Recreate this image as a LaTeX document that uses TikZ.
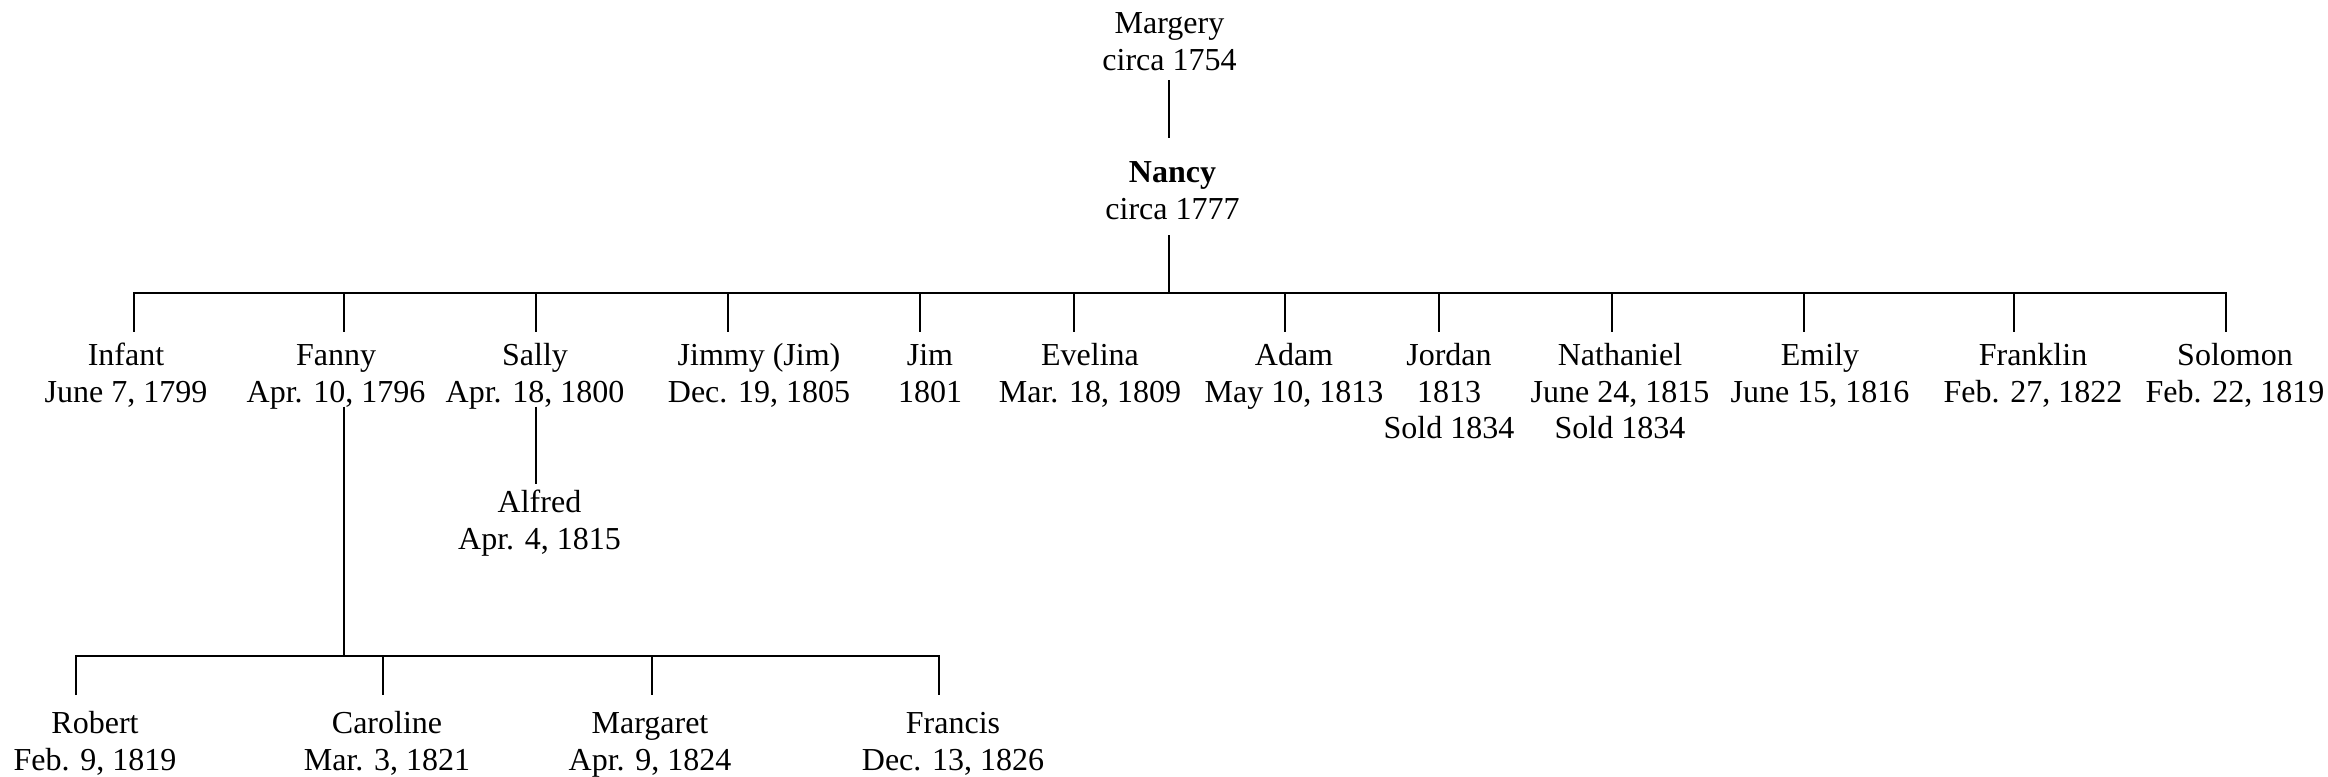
\documentclass[tikz,border=0pt]{standalone}
\usepackage{fontspec}
\setmainfont{Liberation Serif}
\newcommand\treefont{\fontsize{16}{18.35}\selectfont}
\begin{document}
\begin{tikzpicture}[x=0.5pt,y=-0.5pt,
  person/.style={align=center,inner sep=0pt,anchor=north,font=\treefont},
  link/.style={line width=1pt}]
\useasboundingbox (0,0) rectangle (2328,776);
% generation 1 and 2
\node[person] (margery) at (1169.5,7.3) {\strut Margery\\circa 1754};
\node[person] (nancy) at (1172.5,156.3) {\strut\textbf{Nancy}\\circa 1777};
% children of Nancy
\node[person] (infant)    at (126,339.3)  {\strut Infant\\June 7, 1799};
\node[person] (fanny)     at (336,339.3)  {\strut Fanny\\Apr. 10, 1796};
\node[person] (sally)     at (535,339.3)  {\strut Sally\\Apr. 18, 1800};
\node[person] (jimmy)     at (759,339.3)  {\strut Jimmy (Jim)\\Dec. 19, 1805};
\node[person] (jim)       at (930,339.3)  {\strut Jim\\1801};
\node[person] (evelina)   at (1090,339.3) {\strut Evelina\\Mar. 18, 1809};
\node[person] (adam)      at (1294,339.3) {\strut Adam\\May 10, 1813};
\node[person] (jordan)    at (1449,339.3) {\strut Jordan\\1813\\Sold 1834};
\node[person] (nathaniel) at (1620,339.3) {\strut Nathaniel\\June 24, 1815\\Sold 1834};
\node[person] (emily)     at (1820,339.3) {\strut Emily\\June 15, 1816};
\node[person] (franklin)  at (2033,339.3) {\strut Franklin\\Feb. 27, 1822};
\node[person] (solomon)   at (2235,339.3) {\strut Solomon\\Feb. 22, 1819};
% grandchildren
\node[person] (alfred)    at (539.5,486.6) {\strut Alfred\\Apr. 4, 1815};
\node[person] (robert)    at (95,707.6)    {\strut Robert\\Feb. 9, 1819};
\node[person] (caroline)  at (387,707.6)   {\strut Caroline\\Mar. 3, 1821};
\node[person] (margaret)  at (650,707.6)   {\strut Margaret\\Apr. 9, 1824};
\node[person] (francis)   at (953,707.6)   {\strut Francis\\Dec. 13, 1826};
% connector coordinates
\coordinate (margery-b) at (1169.3,80);
\coordinate (nancy-t)   at (1169.3,138);
\coordinate (nancy-b)   at (1169.3,235);
\coordinate (nancy-bus) at (1169.3,293);
\foreach \n/\x in {infant/133.5,fanny/344.3,sally/536,jimmy/728.3,jim/920,evelina/1074,adam/1285,jordan/1438.5,nathaniel/1611.7,emily/1803.5,franklin/2014,solomon/2225.7}{
  \coordinate (\n-t) at (\x,293);
  \coordinate (\n-b) at (\x,331.7);
}
\coordinate (sally-d)  at (536,406.7);
\coordinate (alfred-t) at (536,484);
\coordinate (fanny-d)  at (344.3,406.7);
\coordinate (fanny-bus) at (344.3,656);
\foreach \n/\x in {robert/76,caroline/382.7,margaret/652.3,francis/939.3}{
  \coordinate (\n-t) at (\x,656);
  \coordinate (\n-b) at (\x,695);
}
% connectors
\draw[link] (margery-b) -- (nancy-t);
\draw[link] (nancy-b) -- (nancy-bus);
\draw[link] (infant-b) -- (infant-t) -- (solomon-t) -- (solomon-b);
\foreach \n in {fanny,sally,jimmy,jim,evelina,adam,jordan,nathaniel,emily,franklin}{
  \draw[link] (\n-t) -- (\n-b);
}
\draw[link] (sally-d) -- (alfred-t);
\draw[link] (fanny-d) -- (fanny-bus);
\draw[link] (robert-b) -- (robert-t) -- (francis-t) -- (francis-b);
\draw[link] (caroline-t) -- (caroline-b);
\draw[link] (margaret-t) -- (margaret-b);
\end{tikzpicture}
\end{document}
